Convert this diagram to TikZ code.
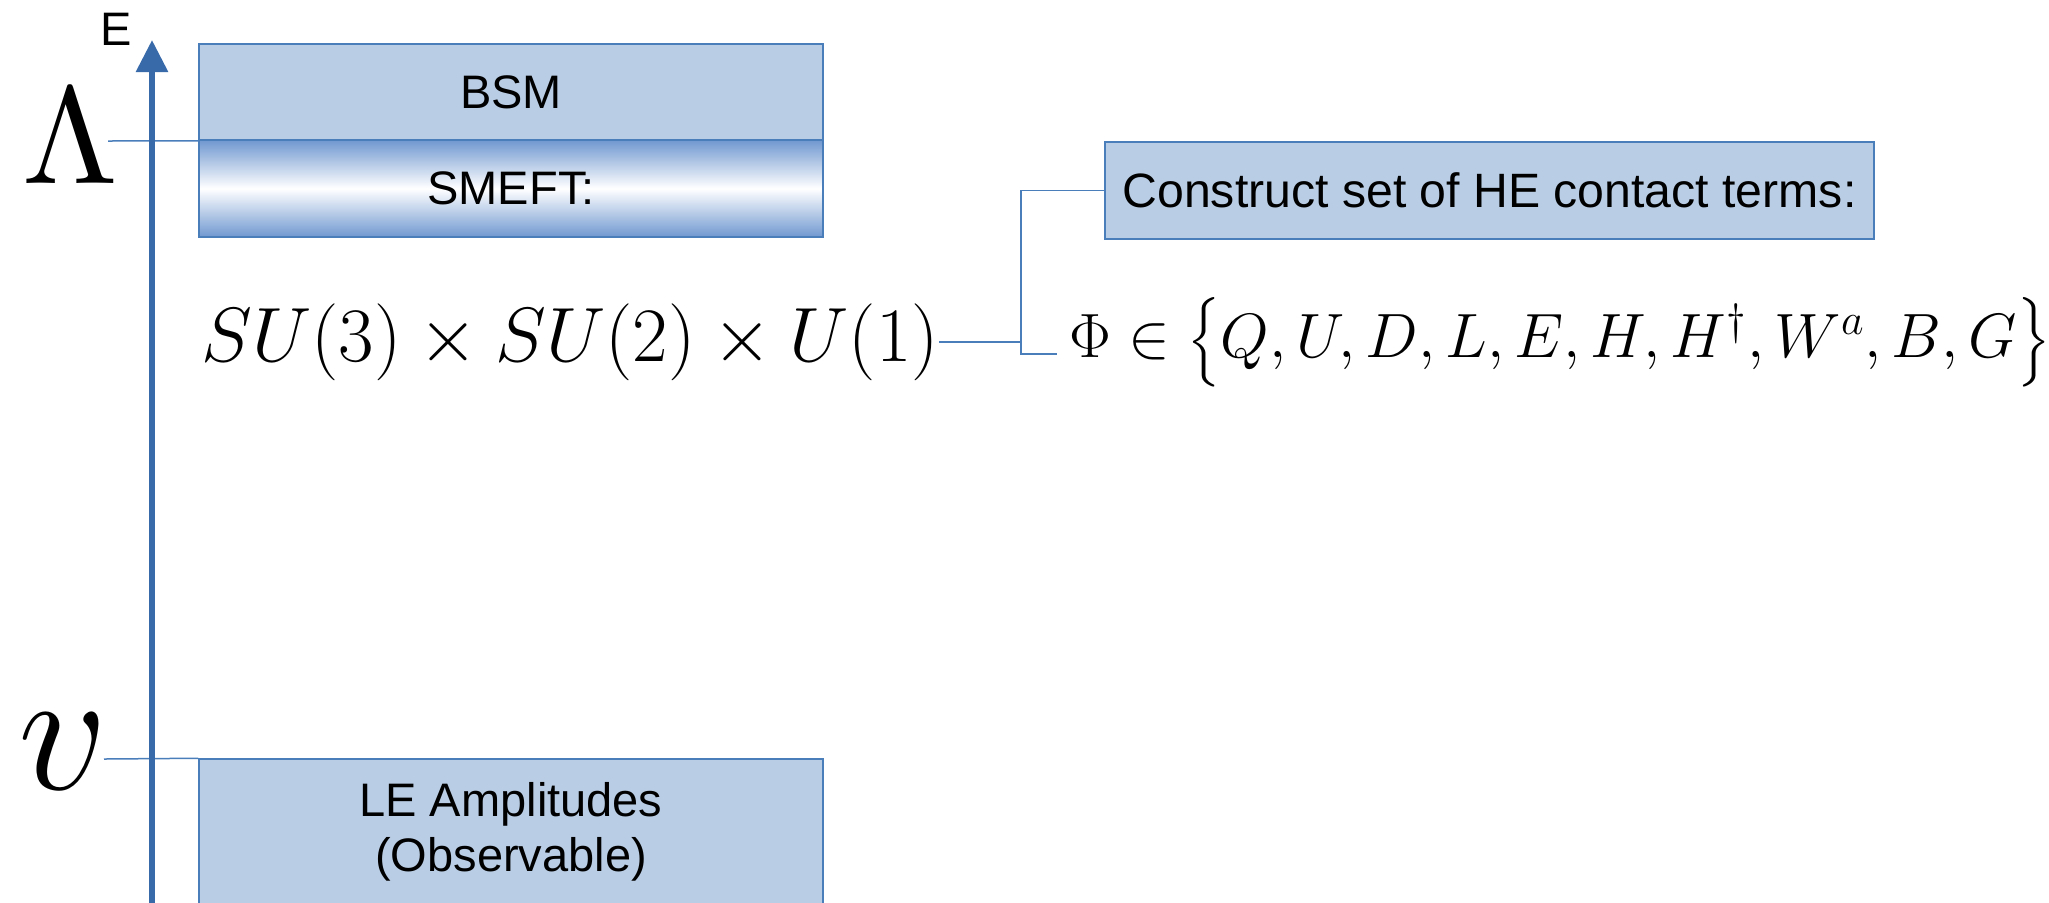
\RequirePackage{fix-cm}
\documentclass[tikz,border=0pt]{standalone}
\usepackage{amsmath}
\usepackage{fontspec}
\setsansfont{Liberation Sans}
\usepackage{tikz}
\usetikzlibrary{arrows.meta,positioning,calc}
\definecolor{boxfill}{RGB}{185,205,228}
\definecolor{boxline}{RGB}{74,126,187}
\definecolor{axisblue}{RGB}{56,106,170}
\definecolor{smeftedge}{RGB}{112,152,208}
\font\cutofffont=cmr10 at 69pt

\begin{document}
\begin{tikzpicture}[
  x=0.5pt, y=-0.5pt,
  font=\sffamily\fontsize{23.5}{27.5}\selectfont,
  band/.style={draw=boxline, line width=0.75pt, fill=boxfill, minimum width=312pt, minimum height=48pt, inner sep=0pt, align=center},
  fadeband/.style={draw=boxline, line width=0.75pt, top color=smeftedge, bottom color=smeftedge, middle color=white, minimum width=312pt, minimum height=48.5pt, inner sep=0pt},
  level/.style={draw=boxline, line width=0.75pt},
  link/.style={draw=boxline, line width=0.75pt},
  axis/.style={draw=axisblue, line width=3pt, -{Triangle[length=16pt,width=15.5pt]}}
]
\useasboundingbox (0,0) rectangle (2049,902);

\node[band] (bsm) at (511,92) {BSM};
\node[fadeband] (smeft) at (511,188.5) {SMEFT:};
\node[band, minimum height=73pt] (le) at (511,832) {LE Amplitudes\\(Observable)};
\node[band, minimum width=384.5pt, minimum height=48.5pt, font=\sffamily\fontsize{24.1}{28}\selectfont] (he) at (1489.5,190.5) {Construct set of HE contact terms:};

\node[font=\sffamily\fontsize{23.5}{26}\selectfont] (e) at (116,29) {E};
\node[font=\cutofffont] (lam) at (70,136) {\char3};
\node[font=\fontsize{88}{90}\selectfont] (vev) at (63,752) {$v$};
\node[font=\fontsize{38.5}{40}\selectfont, inner sep=0pt] (gauge) at (570,342) {$SU(3)\times SU(2)\times U(1)$};
\node[font=\fontsize{31.3}{34}\selectfont, inner sep=0pt, anchor=west] (fields) at (1069,342) {$\Phi\in\left\{Q,U,D,L,E,H,H^\dagger,W^a,B,G\right\}$};

\coordinate (lamtip) at (108,141);
\coordinate (vevtip) at (104,759);
\coordinate (brk) at (1021,354);
\coordinate (fieldtip) at (1057,354);
\coordinate (axbot) at (152,910);
\coordinate (axtop) at (152,40);

\draw[level] (lamtip) -- (bsm.south west);
\draw[level] (vevtip) -- (le.north west);
\draw[link] (gauge.east) -- (gauge.east -| brk);
\draw[link] (he.west) -| (brk) -- (fieldtip);
\draw[axis] (axbot) -- (axtop);
\end{tikzpicture}
\end{document}
